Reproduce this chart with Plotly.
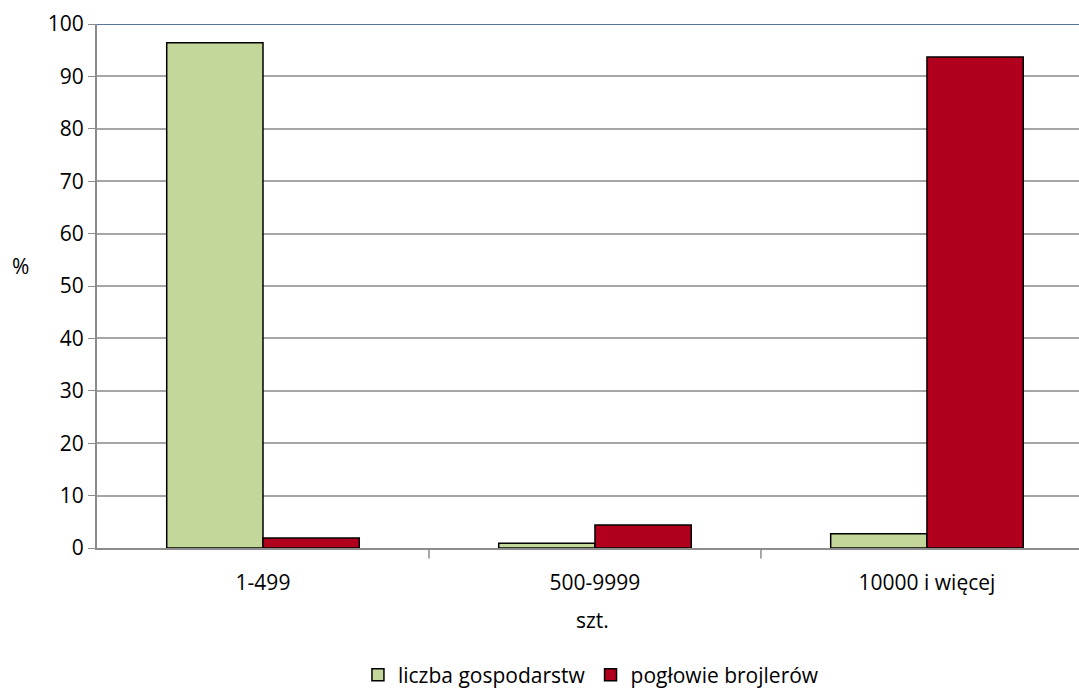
import plotly.graph_objects as go

categories = ["1-499", "500-9999", "10000 i więcej"]
liczba_gospodarstw = [96.4, 0.9, 2.7]
poglowie_brojlerow = [1.9, 4.4, 93.7]
y_ticks = [0, 10, 20, 30, 40, 50, 60, 70, 80, 90, 100]

FONT = "Open Sans, Liberation Sans, sans-serif"
FS = 21

fig = go.Figure()
fig.add_trace(go.Bar(
    x=categories, y=liczba_gospodarstw, name="liczba gospodarstw",
    marker=dict(color="#C4D79B", line=dict(color="#000000", width=1.5)),
))
fig.add_trace(go.Bar(
    x=categories, y=poglowie_brojlerow, name="pogłowie brojlerów",
    marker=dict(color="#B0001E", line=dict(color="#000000", width=1.5)),
))

fig.update_layout(
    width=1079, height=689,
    margin=dict(l=97, r=0, t=24, b=141, autoexpand=False),
    paper_bgcolor="white", plot_bgcolor="white",
    barmode="group", bargap=0.42, bargroupgap=0,
    font=dict(family=FONT, size=FS, color="#000000"),
    showlegend=True,
    legend=dict(orientation="h", x=0.503, xanchor="center", yref="container", y=0.02,
                yanchor="middle", font=dict(size=FS), traceorder="normal",
                itemwidth=30, tracegroupgap=0),
)
# the plot area runs past the right edge of the page, so the last category is cut short
fig.update_xaxes(
    automargin=False, range=[-0.5, 2.458],
    showgrid=False, showline=True, linecolor="#8C8C8C", linewidth=2,
    ticks="", tickfont=dict(size=FS), ticklabelstandoff=15,
)
fig.update_yaxes(
    automargin=False,
    range=[0, 100], tickvals=y_ticks, showgrid=True, gridcolor="#A6A6A6", gridwidth=1.5,
    showline=True, linecolor="#8C8C8C", linewidth=2,
    ticks="outside", ticklen=7, tickcolor="#8C8C8C", tickfont=dict(size=FS),
    zeroline=False,
)

# category separators below the x axis
for xv in [0.5, 1.5]:
    fig.add_shape(type="line", xref="x", yref="paper", x0=xv, x1=xv, y0=0, y1=-0.02,
                  line=dict(color="#8C8C8C", width=1.5))
# upper border of the plot area
fig.add_shape(type="line", xref="paper", yref="y", x0=0, x1=1, y0=100, y1=100,
              line=dict(color="#1F497D", width=1.5))

# axis titles
fig.add_annotation(text="%", xref="paper", yref="paper", x=-0.0774, y=0.538,
                   showarrow=False, font=dict(size=FS), xanchor="center", yanchor="middle")
fig.add_annotation(text="szt.", xref="paper", yref="paper", x=0.505, y=-0.137,
                   showarrow=False, font=dict(size=FS), xanchor="center", yanchor="middle")

fig.write_html("out.html")
